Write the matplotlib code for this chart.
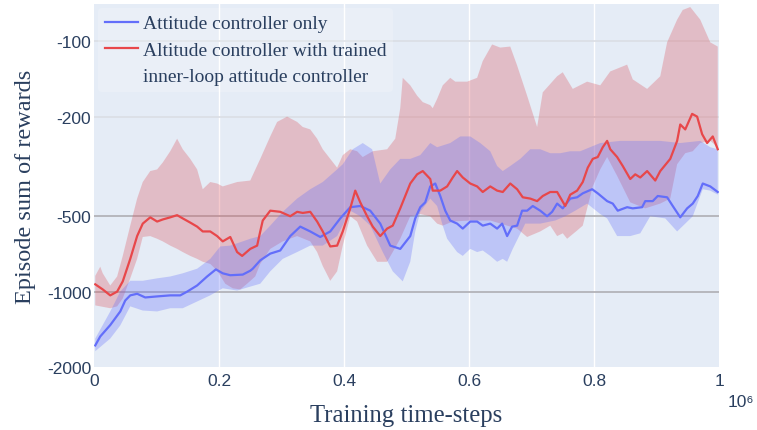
import numpy as np
import matplotlib.pyplot as plt
from matplotlib.lines import Line2D

# training steps (x 1e6) and episode rewards
blue_x = [0.002, 0.010, 0.026, 0.042, 0.050, 0.058, 0.069, 0.082, 0.101, 0.122, 0.138, 0.149,
          0.165, 0.181, 0.195, 0.206, 0.218, 0.238, 0.250, 0.254, 0.266, 0.282, 0.298, 0.314,
          0.330, 0.346, 0.362, 0.378, 0.394, 0.410, 0.426, 0.442, 0.458, 0.474, 0.490, 0.506,
          0.514, 0.522, 0.530, 0.538, 0.546, 0.554, 0.562, 0.570, 0.581, 0.590, 0.602, 0.613,
          0.622, 0.634, 0.645, 0.653, 0.661, 0.669, 0.677, 0.685, 0.693, 0.702, 0.714, 0.725,
          0.733, 0.741, 0.750, 0.762, 0.773, 0.782, 0.797, 0.806, 0.821, 0.830, 0.838, 0.853,
          0.862, 0.877, 0.882, 0.894, 0.902, 0.917, 0.926, 0.938, 0.949, 0.958, 0.966, 0.974,
          0.986, 0.998]
blue_mean = [-1640, -1510, -1360, -1200, -1085, -1035, -1020, -1055, -1045, -1035, -1035, -1000,
             -945, -870, -815, -845, -860, -855, -825, -810, -750, -705, -685, -600,
             -550, -575, -605, -575, -510, -460, -455, -475, -535, -655, -675, -600,
             -510, -460, -440, -380, -370, -415, -475, -520, -535, -560, -525, -525,
             -545, -535, -560, -535, -600, -550, -545, -475, -475, -455, -475, -500,
             -480, -445, -465, -425, -420, -405, -390, -405, -435, -445, -475, -460,
             -465, -460, -435, -435, -415, -420, -455, -505, -465, -445, -415, -370,
             -380, -400]

red_x = [0.002, 0.014, 0.026, 0.037, 0.046, 0.058, 0.069, 0.078, 0.090, 0.101, 0.110, 0.122,
         0.133, 0.142, 0.154, 0.165, 0.174, 0.186, 0.197, 0.206, 0.218, 0.229, 0.237, 0.250,
         0.261, 0.266, 0.270, 0.282, 0.298, 0.314, 0.325, 0.334, 0.346, 0.357, 0.366, 0.378,
         0.389, 0.398, 0.410, 0.418, 0.426, 0.437, 0.446, 0.458, 0.469, 0.478, 0.490, 0.506,
         0.517, 0.526, 0.538, 0.542, 0.554, 0.565, 0.574, 0.581, 0.590, 0.602, 0.613, 0.622,
         0.634, 0.645, 0.654, 0.666, 0.677, 0.686, 0.698, 0.709, 0.718, 0.730, 0.741, 0.754,
         0.762, 0.773, 0.782, 0.790, 0.798, 0.806, 0.814, 0.821, 0.826, 0.837, 0.846, 0.858,
         0.866, 0.874, 0.885, 0.898, 0.906, 0.922, 0.933, 0.938, 0.946, 0.957, 0.965, 0.973,
         0.981, 0.990, 0.998]
red_mean = [-935, -980, -1035, -1000, -910, -740, -600, -535, -505, -525, -515, -505,
            -495, -510, -530, -550, -575, -575, -600, -630, -605, -695, -720, -675,
            -655, -575, -520, -475, -480, -500, -480, -485, -480, -525, -575, -660,
            -655, -575, -465, -395, -440, -500, -550, -600, -560, -545, -465, -370,
            -340, -330, -355, -395, -395, -380, -350, -330, -350, -370, -380, -400,
            -380, -395, -400, -370, -390, -420, -425, -435, -415, -400, -400, -455,
            -410, -395, -365, -320, -295, -290, -265, -250, -270, -290, -315, -355,
            -340, -350, -330, -360, -330, -295, -250, -215, -225, -195, -200, -235,
            -255, -240, -270]

blue_up_x = [0.002, 0.026, 0.042, 0.058, 0.078, 0.101, 0.122, 0.142, 0.165, 0.186, 0.202, 0.218,
             0.238, 0.250, 0.266, 0.282, 0.302, 0.325, 0.346, 0.366, 0.389, 0.398, 0.414, 0.430,
             0.445, 0.458, 0.474, 0.490, 0.506, 0.522, 0.538, 0.549, 0.570, 0.586, 0.602, 0.618,
             0.634, 0.645, 0.654, 0.666, 0.682, 0.698, 0.714, 0.730, 0.746, 0.762, 0.778, 0.810,
             0.842, 0.874, 0.906, 0.938, 0.970, 0.986, 0.998]
blue_up = [-1540, -1200, -1000, -905, -905, -885, -870, -845, -810, -740, -660, -655,
           -630, -615, -600, -545, -480, -425, -390, -365, -325, -310, -270, -255,
           -270, -370, -325, -295, -295, -285, -255, -265, -255, -240, -240, -255,
           -275, -315, -330, -315, -295, -270, -270, -280, -280, -275, -275, -255,
           -250, -250, -250, -255, -250, -265, -270]

blue_lo_x = [0.002, 0.026, 0.042, 0.058, 0.078, 0.101, 0.122, 0.142, 0.165, 0.186, 0.206, 0.229,
             0.250, 0.266, 0.282, 0.302, 0.325, 0.346, 0.366, 0.389, 0.410, 0.426, 0.442, 0.462,
             0.478, 0.494, 0.506, 0.514, 0.522, 0.538, 0.549, 0.558, 0.565, 0.581, 0.590, 0.602,
             0.613, 0.622, 0.634, 0.645, 0.654, 0.661, 0.670, 0.678, 0.690, 0.714, 0.738, 0.754,
             0.770, 0.789, 0.810, 0.821, 0.837, 0.858, 0.874, 0.890, 0.914, 0.933, 0.946, 0.958,
             0.974, 0.986, 0.998]
blue_lo = [-1730, -1540, -1365, -1145, -1190, -1200, -1165, -1165, -1095, -1035, -970, -990,
           -955, -930, -830, -740, -695, -655, -655, -600, -475, -500, -545, -695,
           -830, -910, -760, -575, -480, -425, -455, -545, -615, -695, -720, -675,
           -695, -685, -720, -760, -740, -760, -675, -615, -535, -535, -520, -500,
           -475, -445, -490, -510, -600, -600, -585, -500, -510, -575, -535, -500,
           -390, -395, -410]

red_up_x = [0.002, 0.010, 0.014, 0.026, 0.037, 0.046, 0.058, 0.069, 0.078, 0.090, 0.101, 0.110,
            0.122, 0.133, 0.142, 0.154, 0.165, 0.174, 0.186, 0.197, 0.206, 0.229, 0.250, 0.266,
            0.282, 0.293, 0.309, 0.325, 0.334, 0.346, 0.357, 0.366, 0.378, 0.389, 0.398, 0.410,
            0.421, 0.430, 0.446, 0.469, 0.482, 0.490, 0.494, 0.506, 0.517, 0.526, 0.538, 0.542,
            0.549, 0.558, 0.570, 0.578, 0.586, 0.597, 0.613, 0.622, 0.637, 0.650, 0.666, 0.677,
            0.693, 0.709, 0.718, 0.741, 0.750, 0.766, 0.789, 0.810, 0.826, 0.853, 0.862, 0.885,
            0.906, 0.917, 0.933, 0.942, 0.954, 0.970, 0.986, 0.998]
red_up = [-865, -795, -845, -945, -870, -720, -545, -425, -365, -330, -325, -305,
          -275, -245, -270, -295, -325, -390, -365, -370, -380, -365, -360, -295,
          -240, -210, -200, -210, -220, -225, -245, -270, -295, -320, -285, -270,
          -275, -290, -275, -270, -245, -185, -140, -150, -165, -175, -180, -185,
          -170, -150, -140, -145, -145, -145, -140, -120, -103, -106, -105, -125,
          -165, -220, -160, -138, -133, -155, -145, -150, -132, -124, -142, -155,
          -138, -101, -82, -75, -73, -82, -101, -105]

red_lo_x = [0.002, 0.026, 0.037, 0.046, 0.058, 0.069, 0.078, 0.090, 0.101, 0.110, 0.122, 0.133,
            0.142, 0.154, 0.165, 0.174, 0.186, 0.197, 0.210, 0.222, 0.234, 0.245, 0.258, 0.266,
            0.282, 0.302, 0.325, 0.346, 0.357, 0.366, 0.378, 0.389, 0.398, 0.410, 0.421, 0.437,
            0.453, 0.469, 0.478, 0.490, 0.506, 0.522, 0.538, 0.549, 0.558, 0.574, 0.602, 0.634,
            0.661, 0.677, 0.693, 0.714, 0.730, 0.741, 0.750, 0.757, 0.773, 0.782, 0.798, 0.810,
            0.821, 0.837, 0.858, 0.882, 0.906, 0.922, 0.933, 0.946, 0.958, 0.970, 0.986, 0.998]
red_lo = [-1135, -1165, -1145, -1065, -885, -740, -605, -600, -615, -630, -655, -675,
          -695, -720, -740, -760, -775, -825, -930, -970, -980, -930, -870, -775,
          -675, -630, -600, -630, -695, -790, -905, -830, -655, -500, -525, -655,
          -760, -760, -695, -615, -500, -490, -500, -535, -545, -525, -520, -520,
          -545, -560, -605, -575, -545, -600, -585, -615, -570, -545, -380, -325,
          -290, -345, -440, -465, -445, -425, -310, -280, -275, -255, -250, -265]

y_ticks = [-2000, -1000, -500, -200, -100]
x_ticks = [0, 0.2, 0.4, 0.6, 0.8, 1]


def fwd(y):
    y = np.asarray(y, dtype=float)
    return -np.log10(np.maximum(-y, 1e-6))


def inv(u):
    return -10.0 ** (-np.asarray(u, dtype=float))


txt = '#2a3f5f'
blue = '#636efa'
red = '#e8474a'

fig = plt.figure(figsize=(7.57, 4.31), dpi=100)
ax = fig.add_axes([94 / 757, 1 - 368 / 431, 625 / 757, 363 / 431])
ax.set_facecolor('#e5ecf6')
ax.set_yscale('function', functions=(fwd, inv))
ax.set_xlim(0, 1)
ax.set_ylim(-2000, -71)

# grid
for xv in x_ticks[1:-1]:
    ax.axvline(xv, color='white', lw=1, zorder=0)
for yv in y_ticks[1:]:
    c = '#b3b3b8' if yv in (-1000, -500) else '#dcdfe6'
    ax.axhline(yv, color=c, lw=1.3, zorder=0)

ax.fill(np.r_[red_up_x, red_lo_x[::-1]], np.r_[red_up, red_lo[::-1]],
        color=(0.86, 0.31, 0.35), alpha=0.3, lw=0, zorder=1)
ax.fill(np.r_[blue_up_x, blue_lo_x[::-1]], np.r_[blue_up, blue_lo[::-1]],
        color=blue, alpha=0.3, lw=0, zorder=1)
ax.plot(blue_x, blue_mean, color=blue, lw=1.6, zorder=3)
ax.plot(red_x, red_mean, color=red, lw=1.6, zorder=4)

for s in ax.spines.values():
    s.set_visible(False)
ax.tick_params(length=0, colors=txt, labelsize=12.5)
ax.tick_params(axis='y', pad=2)
ax.tick_params(axis='x', pad=4)
ax.set_yticks(y_ticks)
ax.set_yticklabels([str(v) for v in y_ticks], family='Liberation Sans')
ax.minorticks_off()
ax.set_xticks(x_ticks)
ax.set_xticklabels(['0', '0.2', '0.4', '0.6', '0.8', '1'], family='Liberation Sans')

ax.set_xlabel('Training time-steps', family='Liberation Serif', fontsize=17.8, color=txt, labelpad=12)
ax.set_ylabel('Episode sum of rewards', family='Liberation Serif', fontsize=17.5, color=txt, labelpad=8)
fig.text(728 / 757, 1 - 403 / 431, '10\u2076', family=['Liberation Sans', 'DejaVu Sans'],
         fontsize=12.5, color=txt, ha='left', va='center')

handles = [Line2D([], [], color=blue, lw=1.6),
           Line2D([], [], color=red, lw=1.6),
           Line2D([], [], color='none')]
labels = ['Attitude controller only', 'Altitude controller with trained',
          'inner-loop attitude controller']
leg = ax.legend(handles, labels, loc='upper left', bbox_to_anchor=(0.0, 1.0),
                prop={'family': 'Liberation Serif', 'size': 14}, frameon=True,
                framealpha=0.2, facecolor='white', edgecolor='none',
                handlelength=1.7, handletextpad=0.25, labelspacing=0.45,
                borderaxespad=0.2, borderpad=0.35)
for t in leg.get_texts():
    t.set_color(txt)

fig.savefig('out.png', dpi=100, facecolor='white')
